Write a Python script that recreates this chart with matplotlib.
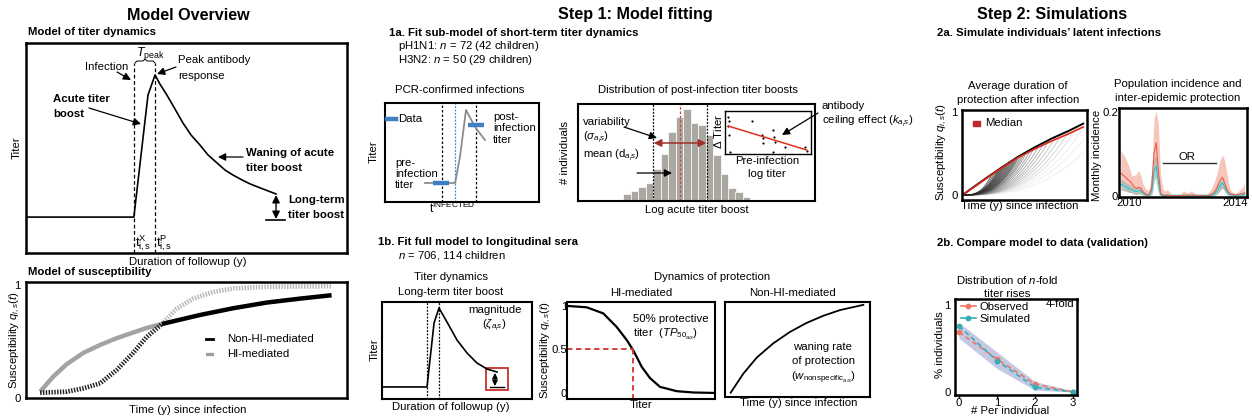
import numpy as np
import matplotlib
matplotlib.use("Agg")
import matplotlib.pyplot as plt
from matplotlib.patches import Rectangle
from matplotlib.lines import Line2D

plt.rcParams["font.family"] = ["Liberation Sans", "DejaVu Sans"]
plt.rcParams["mathtext.fontset"] = "custom"
plt.rcParams["mathtext.rm"] = "Liberation Sans"
plt.rcParams["mathtext.it"] = "Liberation Sans:italic"
plt.rcParams["mathtext.bf"] = "Liberation Sans:bold"
plt.rcParams["mathtext.sf"] = "Liberation Sans"

# ------------------------------------------------------------------ data
# Model overview: titer trajectory around one infection (schematic units 0-10)
titer_t = [0.0, 3.36, 3.80, 4.02, 4.17, 4.39, 4.64, 4.89, 5.14, 5.42, 5.67,
           5.95, 6.20, 6.45, 6.73, 6.98, 7.38, 7.79]
titer_level = [1.71, 1.71, 7.52, 8.48, 8.05, 7.52, 6.86, 6.19, 5.62, 5.14, 4.67,
               4.29, 3.95, 3.71, 3.48, 3.29, 3.05, 2.81]
longterm_floor = 1.57

# Model overview: susceptibility after infection
nonhi_t = [0.44, 0.85, 1.27, 1.79, 2.31, 2.83, 3.34, 3.76, 4.23, 5.42, 6.46, 7.50, 8.54, 9.52]
nonhi_q = [0.056, 0.19, 0.30, 0.40, 0.47, 0.53, 0.58, 0.62, 0.655, 0.735, 0.795, 0.845, 0.88, 0.91]
hi_t = [0.44, 1.27, 1.79, 2.31, 2.83, 3.34, 3.76, 4.23, 4.69, 5.21, 5.84, 6.46, 7.50, 9.52]
hi_q = [0.047, 0.056, 0.086, 0.13, 0.25, 0.40, 0.54, 0.655, 0.79, 0.88, 0.94, 0.97, 0.985, 0.99]
nonhi_cross, hi_cross = 8, 7

# 1a: PCR-confirmed infection trajectory
pcr_t = [2.6, 4.55, 4.87, 5.26, 5.84, 6.49]
pcr_titer = [1.92, 1.92, 4.58, 9.29, 7.6, 6.26]
pcr_obs_t = [3.64, 5.88]
pcr_obs = [1.92, 7.75]
pcr_window = [3.7, 5.9]
pcr_infected = 4.55

# 1a: distribution of acute titer boosts
boost_counts = [7, 10, 14, 18, 32, 47, 69, 84, 92, 78, 76, 66, 46, 27, 13, 9, 4]
boost_mean = 7.6
boost_sd = 3.6

# 1a inset: ceiling effect
prior_titer = [0.39, 0.5, 0.39, 0.47, 0.58, 3.1, 4.26, 4.46, 4.46, 5.62, 5.74,
               5.81, 5.62, 6.98, 9.3, 9.5]
delta_titer = [8.68, 7.75, 6.5, 4.4, 0.54, 7.67, 4.4, 3.64, 2.64, 5.58, 4.03,
               2.87, 0.54, 1.7, 1.7, 0.78]
ceiling_fit_x = [0.39, 9.5]
ceiling_fit_y = [6.5, 0.93]

# 1b: long-term titer boost
lt_t = [0, 3.0, 3.47, 3.8, 4.33, 5.0, 5.67, 6.33, 7.0, 7.67]
lt_level = [1.24, 1.24, 7.84, 9.38, 7.94, 6.08, 4.74, 3.71, 3.09, 2.78]

# 1b: HI-mediated protection curve
hi_titer = [0.09, 1.33, 2.45, 3.35, 4.03, 4.48, 5.05, 5.61, 6.28, 7.41, 8.53, 9.88]
hi_susc = [1.0, 0.985, 0.915, 0.76, 0.61, 0.49, 0.30, 0.17, 0.07, 0.02, 0.005, 0.0]
tp50 = 4.46

# 1b: non-HI-mediated protection waning
nh_t = [0.39, 1.26, 2.19, 3.33, 4.48, 5.63, 6.78, 7.93, 9.54]
nh_q = [0.45, 2.45, 4.15, 5.65, 6.85, 7.8, 8.55, 9.15, 9.7]

# 2a: susceptibility after infection (upper envelope, median, individual join times)
env_t = [0.018, 0.10, 0.184, 0.318, 0.45, 0.584, 0.718, 0.85, 0.97]
env_q = [0.016, 0.105, 0.195, 0.335, 0.465, 0.58, 0.685, 0.775, 0.865]
median_q = [0.016, 0.10, 0.19, 0.33, 0.455, 0.56, 0.655, 0.74, 0.825]
fan_join = [0.24, 0.26, 0.28, 0.29, 0.30, 0.31, 0.32, 0.33, 0.34, 0.35, 0.36,
            0.37, 0.38, 0.39, 0.40, 0.41, 0.42, 0.43, 0.44, 0.45, 0.46, 0.48,
            0.50, 0.52, 0.55, 0.58, 0.62, 0.66, 0.70, 0.75, 0.80, 0.86, 0.92,
            1.0, 1.1, 1.25]

# 2a: monthly incidence, starting mid-2009
start_year = 2009.69
red_median = [.055, .050, .046, .040, .036, .030, .022, .018, .021, .019, .011, .006,
              .003, .005, .022, .100, .128, .060, .006, .003, .002, .003, .002, .001,
              .001, .001, .001, .001, .002, .002, .003, .002, .002, .003, .002, .001,
              .001, .001, .001, .001, .002, .004, .008, .015, .026, .038, .045, .032,
              .016, .008, .005, .004, .003, .004, .005, .006, .008]
red_hi = [.110, .100, .092, .080, .065, .048, .050, .052, .062, .050, .030, .020,
          .014, .018, .060, .185, .203, .170, .050, .018, .012, .016, .010, .005,
          .004, .004, .004, .005, .010, .012, .006, .010, .013, .008, .004, .003,
          .003, .003, .004, .006, .010, .018, .030, .045, .065, .088, .098, .085,
          .055, .025, .012, .008, .006, .010, .016, .020, .030]
red_lo = [.025, .020, .016, .012, .010, .008, .005, .004, .006, .005, .002, 0,
          0, 0, .004, .040, .060, .020, 0, 0, 0, 0, 0, 0,
          0, 0, 0, 0, 0, 0, 0, 0, 0, 0, 0, 0,
          0, 0, 0, 0, 0, 0, 0, .003, .008, .015, .020, .012,
          .004, 0, 0, 0, 0, 0, 0, 0, 0]
grey_hi = [.040, .037, .033, .030, .027, .022, .019, .018, .022, .020, .012, .007,
           .004, .006, .025, .090, .098, .055, .010, .004, .003, .003, .003, .002,
           .002, .002, .002, .002, .003, .003, .003, .003, .003, .003, .002, .002,
           .002, .002, .002, .003, .004, .006, .010, .018, .028, .036, .040, .030,
           .016, .008, .005, .004, .004, .005, .006, .006, .008]
grey_lo = [.014, .013, .012, .010, .009, .008, .006, .005, .006, .006, .003, .001,
           0, .001, .004, .035, .045, .012, 0, 0, 0, 0, 0, 0,
           0, 0, 0, 0, 0, 0, 0, 0, 0, 0, 0, 0,
           0, 0, 0, 0, 0, 0, 0, .003, .007, .014, .020, .012,
           .004, 0, 0, 0, 0, 0, 0, 0, 0]
teal_mid = [.028, .026, .023, .020, .018, .015, .012, .011, .013, .012, .007, .004,
            .002, .003, .012, .060, .072, .032, .004, .001, .001, .001, .001, .001,
            .001, .001, .001, .001, .001, .001, .001, .001, .001, .001, .001, .001,
            .001, .001, .001, .001, .001, .002, .004, .009, .016, .026, .032, .022,
            .010, .005, .003, .002, .002, .002, .003, .003, .004]
or_span = [2011.28, 2013.28]
or_level = 0.078

# 2b: distribution of 4-fold rises
rises = [0, 1, 2, 3]
observed = [0.69, 0.38, 0.09, 0.0]
simulated = [0.76, 0.36, 0.054, 0.0]
sim_lo = [0.62, 0.27, 0.02, 0.0]
sim_hi = [0.80, 0.46, 0.12, 0.012]

# ------------------------------------------------------------------ layout
W, H = 1252, 419
fig = plt.figure(figsize=(W / 100, H / 100), dpi=100)
fig.patch.set_facecolor("white")
FS = 8.2
FT = 11.6


def box(x0, y0, x1, y1, lw=1.5):
    ax = fig.add_axes([x0 / W, 1 - y1 / H, (x1 - x0) / W, (y1 - y0) / H])
    for s in ax.spines.values():
        s.set_linewidth(lw)
    ax.set_xticks([])
    ax.set_yticks([])
    return ax


ov = fig.add_axes([0, 0, 1, 1], zorder=10)
ov.set_xlim(0, W)
ov.set_ylim(H, 0)
ov.axis("off")
ov.patch.set_alpha(0)


def txt(x, y, s, size=FS, ha="left", va="center", **kw):
    ov.text(x, y, s, fontsize=size, ha=ha, va=va, **kw)


def arrow(x0, y0, x1, y1, color="black", lw=0.9, style="-|>,head_length=0.5,head_width=0.25", ms=9):
    ov.annotate("", xy=(x1, y1), xytext=(x0, y0),
                arrowprops=dict(arrowstyle=style, color=color, lw=lw,
                                mutation_scale=ms, shrinkA=0, shrinkB=0))


# ================= Model overview =================
txt(188, 15, "Model Overview", size=FT, ha="center", weight="bold")
txt(28, 32, "Model of titer dynamics", weight="bold")

ax = box(26, 43, 347, 253, lw=1.8)
ax.set_xlim(0, 10)
ax.set_ylim(0, 10)
ax.plot(titer_t, titer_level, color="black", lw=1.2)
for xv in (titer_t[1], titer_t[3]):
    ax.plot([xv, xv], [0, 9.05], color="black", lw=0.9, ls=(0, (3, 2)))
ax.annotate("", xy=(titer_t[-1], titer_level[-1] - 0.05), xytext=(titer_t[-1], longterm_floor + 0.05),
            arrowprops=dict(arrowstyle="<|-|>,head_length=0.5,head_width=0.25", color="black",
                            lw=1.0, mutation_scale=9, shrinkA=0, shrinkB=0))
ax.plot([titer_t[-1] - 0.3, titer_t[-1] + 0.27], [longterm_floor] * 2, color="black", lw=1.2)

txt(17, 148, "Titer", rotation=90, ha="center")
txt(107, 67, "Infection", ha="center")
arrow(117, 72, 131, 80)
txt(178, 60, "Peak antibody")
txt(178, 76, "response")
arrow(176, 67, 157, 74)
txt(53, 99, "Acute titer", weight="bold")
txt(53, 114, "boost", weight="bold")
arrow(89, 108, 141, 124)
txt(246, 153, "Waning of acute", weight="bold")
txt(246, 168, "titer boost", weight="bold")
arrow(243, 157, 218, 157)
txt(288, 200, "Long-term", weight="bold")
txt(288, 215, "titer boost", weight="bold")
txt(150, 54, r"$T_{\mathrm{peak}}$", size=9, ha="center")
ov.plot([135, 137, 143, 145, 147, 153, 155], [63, 61, 61, 59, 61, 61, 63], color="black", lw=0.7)
txt(143, 243, r"$\mathrm{t}^{\mathrm{X}}_{\mathrm{i,s}}$", ha="center", size=9.5)
txt(164, 243, r"$\mathrm{t}^{\mathrm{P}}_{\mathrm{i,s}}$", ha="center", size=9.5)
txt(188, 262, "Duration of followup (y)", ha="center")

txt(28, 272, "Model of susceptibility", weight="bold")
ax = box(26, 282, 347, 398, lw=1.8)
ax.set_xlim(0, 10)
ax.set_ylim(0, 1.027)
ax.set_yticks([0, 1])
ax.set_yticklabels(["0", "1"], fontsize=FS)
ax.tick_params(axis="y", length=0, pad=4)
dots = (0, (0.3, 0.3))
ax.plot(nonhi_t[:nonhi_cross + 1], nonhi_q[:nonhi_cross + 1], color="#a3a3a3", lw=3.2,
        solid_capstyle="butt", solid_joinstyle="round")
ax.plot(hi_t[hi_cross:], hi_q[hi_cross:], color="#b5b5b5", lw=3.4, ls=dots)
ax.plot(hi_t[:hi_cross + 1], hi_q[:hi_cross + 1], color="#202020", lw=3.4, ls=dots)
ax.plot(nonhi_t[nonhi_cross:], nonhi_q[nonhi_cross:], color="black", lw=3.2,
        solid_capstyle="butt", solid_joinstyle="round")
ov.plot([206, 213], [339, 339], color="black", lw=2.0)
ov.plot([206, 213], [354, 354], color="#404040", lw=2.4, ls=(0, (0.3, 0.3)))
txt(227, 339, "Non-HI-mediated")
txt(227, 354, "HI-mediated")
txt(15, 340, r"Susceptibility $q_{i,s}(t)$", rotation=90, ha="center")
txt(188, 410, "Time (y) since infection", ha="center")

# ================= Step 1 =================
txt(635, 15, "Step 1: Model fitting", size=FT, ha="center", weight="bold")
txt(389, 33, "1a. Fit sub-model of short-term titer dynamics", weight="bold")
txt(398, 46, r"pH1N1: $n$ = 72 (42 children)")
txt(398, 60, r"H3N2: $n$ = 50 (29 children)")

# PCR-confirmed infections
txt(460, 90, "PCR-confirmed infections", ha="center")
ax = box(385, 103, 539, 202, lw=1.5)
ax.set_xlim(0, 10)
ax.set_ylim(0, 10)
for xv in pcr_window:
    ax.axvline(xv, color="black", lw=0.9, ls=(0, (2, 1.6)))
ax.axvline(pcr_infected, color="#4a86c8", lw=0.9, ls=(0, (1.5, 1.2)))
ax.plot(pcr_t, pcr_titer, color="#8c8c8c", lw=1.3)
ax.plot(pcr_obs_t, pcr_obs, ls="none", marker="_", ms=11, mew=3.2, color="#3f7fc3")
ov.plot([387, 396], [119, 119], color="#3f7fc3", lw=3.2)
txt(398, 119, "Data")
txt(493, 117, "post-")
txt(493, 128, "infection")
txt(493, 140, "titer")
txt(395, 163, "pre-")
txt(395, 174, "infection")
txt(395, 185, "titer")
txt(374, 152, "Titer", rotation=90, ha="center")
txt(452, 208, r"$\mathrm{t}^{\mathrm{INFECTED}}$", ha="center", size=8.5)

# Distribution of boosts
txt(698, 90, "Distribution of post-infection titer boosts", ha="center")
ax = box(578, 104, 815, 201, lw=1.5)
ax.set_xlim(-6, 25.6)
ax.set_ylim(0, 97)
ax.bar(np.arange(len(boost_counts)), boost_counts, width=1.0, align="edge",
       color="#aba8a2", edgecolor="white", lw=0.5)
for xv in (boost_mean - boost_sd, boost_mean + boost_sd):
    ax.axvline(xv, color="black", lw=0.9, ls=(0, (1.5, 1.2)))
ax.axvline(boost_mean, color="#d93a2b", lw=0.9, ls=(0, (2, 1.5)))
ax.annotate("", xy=(boost_mean + boost_sd - 0.1, 58), xytext=(boost_mean - boost_sd + 0.1, 58),
            arrowprops=dict(arrowstyle="<|-|>,head_length=0.5,head_width=0.25", color="#a0302a",
                            lw=1.1, mutation_scale=9, shrinkA=0, shrinkB=0))
txt(583, 122, "variability")
txt(583, 137, r"($\sigma_{a_is}$)")
txt(583, 155, r"mean (d$_{a_is}$)")
arrow(624, 127, 657, 138)
arrow(637, 173, 672, 173)
txt(565, 152, "# individuals", rotation=90, ha="center")
txt(697, 210, "Log acute titer boost", ha="center")

axi = box(725, 111, 811, 154, lw=1.0)
axi.set_xlim(0, 10)
axi.set_ylim(0, 10)
axi.scatter(prior_titer, delta_titer, s=2.5, color="black", lw=0)
axi.plot(ceiling_fit_x, ceiling_fit_y, color="#e0301e", lw=1.1)
txt(718, 131, r"$\Delta$ Titer", rotation=90, ha="center")
txt(767, 161, "Pre-infection", ha="center")
txt(767, 174, "log titer", ha="center")
txt(822, 106, "antibody")
txt(822, 121, r"ceiling effect ($k_{a_is}$)")
arrow(818, 113, 782, 135)

# 1b
txt(378, 242, "1b. Fit full model to longitudinal sera", weight="bold")
txt(398, 255, r"$n$ = 706, 114 children")
txt(451, 277, "Titer dynamics", ha="center")
txt(451, 292, "Long-term titer boost", ha="center")
ax = box(382, 302, 532, 399, lw=1.5)
ax.set_xlim(0, 10)
ax.set_ylim(0, 10)
for xv in (lt_t[1], lt_t[3]):
    ax.axvline(xv, color="black", lw=0.9, ls=(0, (1.5, 1.2)))
ax.plot(lt_t, lt_level, color="black", lw=1.2)
ax.add_patch(Rectangle((6.93, 0.9), 1.47, 2.3, fill=False, edgecolor="#c8302a", lw=1.3))
ax.annotate("", xy=(7.53, lt_level[-1] - 0.1), xytext=(7.53, lt_level[0] + 0.1),
            arrowprops=dict(arrowstyle="<|-|>,head_length=0.4,head_width=0.2", color="black",
                            lw=0.9, mutation_scale=8, shrinkA=0, shrinkB=0))
ax.plot([7.2, 8.13], [lt_level[0]] * 2, color="black", lw=1.0)
txt(495, 310, "magnitude", ha="center")
txt(482, 325, r"($\zeta_{a_is}$)")
txt(375, 350, "Titer", rotation=90, ha="center")
txt(451, 407, "Duration of followup (y)", ha="center")

txt(712, 277, "Dynamics of protection", ha="center")
txt(641, 293, "HI-mediated", ha="center")
ax = box(567, 302, 715, 399, lw=1.5)
ax.set_xlim(0, 10)
ax.set_ylim(-0.07, 1.046)
ax.plot(hi_titer, hi_susc, color="black", lw=1.6)
ax.plot([0, tp50], [0.5, 0.5], color="#d8302a", lw=1.3, ls=(0, (3, 2)))
ax.plot([tp50, tp50], [0.5, -0.07], color="#d8302a", lw=1.3, ls=(0, (3, 2)))
ax.set_yticks([0, 0.5, 1])
ax.set_yticklabels(["0", "0.5", "1"], fontsize=FS)
ax.tick_params(axis="y", length=0, pad=0)
txt(633, 319, "50% protective")
txt(633, 334, r"titer  ($TP_{50_{a_is}}$)")
txt(546, 350, r"Susceptibility $q_{i,s}(t)$", rotation=90, ha="center")
txt(641, 405, "Titer", ha="center")

txt(792, 293, "Non-HI-mediated", ha="center")
ax = box(725, 302, 870, 397, lw=1.5)
ax.set_xlim(0, 10)
ax.set_ylim(0, 10)
ax.plot(nh_t, nh_q, color="black", lw=1.3)
txt(823, 347, "waning rate", ha="center")
txt(823, 361, "of protection", ha="center")
txt(823, 377, r"($w_{\mathrm{nonspecific}_{a_is}}$)", ha="center")
txt(799, 403, "Time (y) since infection", ha="center")

# ================= Step 2 =================
txt(1052, 15, "Step 2: Simulations", size=FT, ha="center", weight="bold")
txt(937, 33, "2a. Simulate individuals\u2019 latent infections", weight="bold")

txt(1018, 86, "Average duration of", ha="center")
txt(1018, 100, "protection after infection", ha="center")
ax = box(962, 110, 1087, 200, lw=1.8)
ax.set_xlim(0, 1)
ax.set_ylim(-0.06, 1.03)
tg = np.linspace(env_t[0], env_t[-1], 120)
env_curve = np.interp(tg, env_t, env_q)
order = sorted(range(len(fan_join)), key=lambda k: -fan_join[k])
for k in order:
    tj = fan_join[k]
    m = tg <= tj
    frac = min(1.0, (tj - fan_join[0]) / 0.75)
    g = 0.12 + 0.78 * frac
    ax.plot(tg[m], env_curve[m] * (tg[m] / tj) ** 2, color=(g, g, g), lw=0.6, alpha=0.75)
ax.plot(env_t, env_q, color="black", lw=1.4)
ax.plot(env_t, median_q, color="#e0281e", lw=1.2)
ax.set_yticks([0, 1])
ax.set_yticklabels(["0", "1"], fontsize=FS)
ax.tick_params(axis="y", length=0, pad=3)
ov.add_patch(Rectangle((973, 121), 7, 5, color="#c0282a"))
txt(985, 123, "Median")
txt(942, 152, r"Susceptibility $q_{i,s}(t)$", rotation=90, ha="center")
txt(1020, 206, "Time (y) since infection", ha="center")

txt(1178, 84, "Population incidence and", ha="center")
txt(1178, 98, "inter-epidemic protection", ha="center")
ax = box(1119, 108, 1247, 197, lw=1.8)
yrs = start_year + np.arange(len(red_median)) / 12.0
ax.set_xlim(2009.62, 2014.45)
ax.set_ylim(-0.002, 0.21)
ax.fill_between(yrs, red_lo, red_hi, color="#f4b4a4", alpha=0.75, lw=0)
ax.fill_between(yrs, grey_lo, grey_hi, color="#9aa79a", alpha=0.6, lw=0)
ax.plot(yrs, teal_mid, color="#9fe0e0", lw=2.4, alpha=0.8)
ax.plot(yrs, teal_mid, color="#40b4b8", lw=0.8)
ax.plot(yrs, red_median, color="#e8604c", lw=0.8)
ax.plot(or_span, [or_level] * 2, color="#303030", lw=1.0)
ax.text(np.mean(or_span) - 0.1, or_level + 0.003, "OR", fontsize=FS, ha="center", va="bottom")
ax.set_yticks([0, 0.2])
ax.set_yticklabels(["0", "0.2"], fontsize=FS)
ax.set_xticks([2010, 2014])
ax.set_xticklabels(["2010", "2014"], fontsize=FS)
ax.tick_params(length=0, pad=0.5)
txt(1097, 155, "Monthly incidence", rotation=90, ha="center")

txt(937, 243, "2b. Compare model to data (validation)", weight="bold")
txt(1007, 280, r"Distribution of $n$-fold", ha="center")
txt(1007, 294, "titer rises", ha="center")
ax = box(955, 299, 1077, 395, lw=1.8)
ax.set_xlim(-0.1, 3.1)
ax.set_ylim(-0.035, 1.07)
ax.fill_between(rises, sim_lo, sim_hi, color="#b6bcdc", alpha=0.8, lw=0)
ax.plot(rises, observed, color="#ee7766", lw=1.2, ls=(0, (3, 2)), marker="o", ms=3.2,
        label="Observed")
ax.plot(rises, simulated, color="#37adb4", lw=1.2, ls=(0, (3, 2)), marker="o", ms=3.2,
        label="Simulated")
ax.set_xticks(rises)
ax.set_xticklabels([str(r) for r in rises], fontsize=FS)
ax.set_yticks([0, 1])
ax.set_yticklabels(["0", "1"], fontsize=FS)
ax.tick_params(axis="x", length=2, width=1, pad=0)
ax.tick_params(axis="y", length=0, pad=3)
h_obs = Line2D([], [], color="#ee7766", lw=1.2, marker="o", ms=3.2)
h_sim = Line2D([], [], color="#37adb4", lw=1.2, marker="o", ms=3.2)
ax.legend([h_obs, h_sim], ["Observed", "Simulated"], loc="upper left", frameon=False,
          fontsize=FS, handlelength=1.3, handletextpad=0.3, labelspacing=0.15,
          borderaxespad=0.1, borderpad=0.2, bbox_to_anchor=(0.02, 1.0))
ax.text(0.98, 0.95, "4-fold", transform=ax.transAxes, fontsize=FS, ha="right", va="center")
txt(940, 345, "% individuals", rotation=90, ha="center")
txt(1010, 411, "# Per individual", ha="center")

fig.savefig("out.png", dpi=100)
